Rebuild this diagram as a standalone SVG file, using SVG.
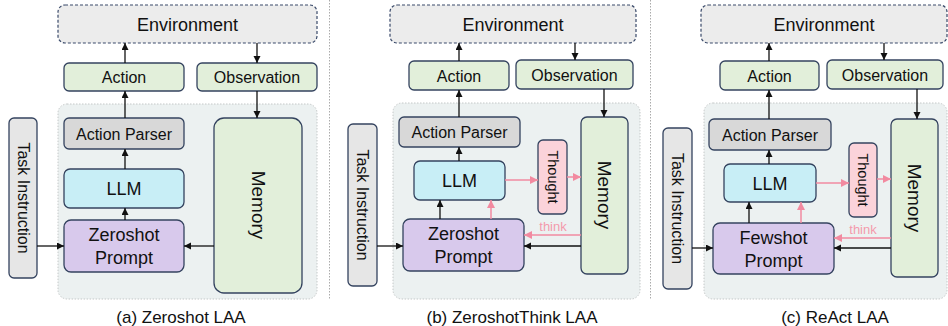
<svg xmlns="http://www.w3.org/2000/svg" width="948" height="326" viewBox="0 0 948 326">
  <defs>
    <marker id="ah" markerUnits="userSpaceOnUse" markerWidth="8" markerHeight="8" refX="7" refY="3.5" orient="auto">
      <path d="M0,0 L7,3.5 L0,7 z" fill="#111"/>
    </marker>
    <marker id="ahp" markerUnits="userSpaceOnUse" markerWidth="10" markerHeight="10" refX="8" refY="4" orient="auto">
      <path d="M0,0 L8,4 L0,8 z" fill="#f28aa0"/>
    </marker>
  </defs>
  <style>
    text { font-family: "Liberation Sans", Arial, sans-serif; fill: #111; text-anchor: middle; }
    .env { fill: #ececec; stroke: #3a4a6a; stroke-width: 1.2; stroke-dasharray: 3 2; }
    .grn { fill: #e2efda; stroke: #34435f; stroke-width: 1.3; }
    .gry { fill: #d8d8d8; stroke: #34435f; stroke-width: 1.3; }
    .task { fill: #e6e6e6; stroke: #34435f; stroke-width: 1.3; }
    .llm { fill: #c8eef6; stroke: #34435f; stroke-width: 1.3; }
    .prm { fill: #d8c9ec; stroke: #34435f; stroke-width: 1.3; }
    .tht { fill: #fbd3da; stroke: #34435f; stroke-width: 1.3; }
    .box { fill: #ecf1f1; stroke: #c4c8c8; stroke-width: 1; stroke-dasharray: 1.5 1.5; }
    .sep { stroke: #aaaaaa; stroke-width: 1; stroke-dasharray: 1.5 1.5; }
    .a { stroke: #111; stroke-width: 1.3; fill: none; marker-end: url(#ah); }
    .p { stroke: #f28aa0; stroke-width: 1.5; fill: none; marker-end: url(#ahp); }
    .t16 { font-size: 16px; }
    .t18 { font-size: 18px; }
    .cap { font-size: 17px; }
    .think { font-size: 13px; fill: #f49aac; }
  </style>

  <!-- panel separators -->
  <line class="sep" x1="329.5" y1="0" x2="329.5" y2="300"/>
  <line class="sep" x1="650.5" y1="0" x2="650.5" y2="300"/>

  <!-- agent containers -->
  <rect class="box" x="58" y="104" width="259" height="195" rx="9"/>
  <rect class="box" x="393" y="103" width="247" height="196" rx="9"/>
  <rect class="box" x="704" y="103" width="243" height="196" rx="9"/>

  <!-- ===== (a) Zeroshot LAA ===== -->
  <g id="a-environment"><rect class="env" x="58" y="5" width="259" height="38" rx="7"/><text class="t18" x="187.5" y="30.5">Environment</text></g>
  <g id="a-action"><rect class="grn" x="64" y="63" width="120" height="28" rx="5"/><text class="t16" x="124" y="83">Action</text></g>
  <g id="a-observation"><rect class="grn" x="197" y="63" width="120" height="28" rx="5"/><text class="t16" x="257" y="83">Observation</text></g>
  <g id="a-parser"><rect class="gry" x="64" y="118" width="120" height="31" rx="5"/><text class="t16" x="124" y="139.5">Action Parser</text></g>
  <g id="a-llm"><rect class="llm" x="64" y="169" width="120" height="39" rx="6"/><text class="t18" x="124" y="195">LLM</text></g>
  <g id="a-prompt"><rect class="prm" x="64" y="220" width="120" height="52" rx="7"/><text class="t18" x="124" y="241">Zeroshot</text><text class="t18" x="124" y="264">Prompt</text></g>
  <g id="a-memory"><rect class="grn" x="214" y="118" width="88" height="175" rx="10"/><text class="t18" transform="translate(251.5 205) rotate(90)" style="font-size:19px">Memory</text></g>
  <g id="a-task"><rect class="task" x="9" y="118" width="28" height="160" rx="5"/><text class="t16" transform="translate(17.5 198) rotate(90)">Task Instruction</text></g>
  <text class="cap" x="181" y="323">(a) Zeroshot LAA</text>

  <!-- ===== (b) ZeroshotThink LAA ===== -->
  <g id="b-environment"><rect class="env" x="390" y="5" width="246" height="38" rx="7"/><text class="t18" x="513" y="30.5">Environment</text></g>
  <g id="b-action"><rect class="grn" x="409" y="61" width="100" height="29" rx="5"/><text class="t16" x="459" y="81.5">Action</text></g>
  <g id="b-observation"><rect class="grn" x="516" y="60" width="117" height="29" rx="5"/><text class="t16" x="574.5" y="80.5">Observation</text></g>
  <g id="b-parser"><rect class="gry" x="399" y="117" width="121" height="30" rx="5"/><text class="t16" x="459.5" y="138">Action Parser</text></g>
  <g id="b-llm"><rect class="llm" x="414" y="161" width="91" height="39" rx="6"/><text class="t18" x="459.5" y="187">LLM</text></g>
  <g id="b-thought"><rect class="tht" x="538" y="140" width="29" height="74" rx="5"/><text transform="translate(547.5 177) rotate(90)" style="font-size:14.5px">Thought</text></g>
  <g id="b-memory"><rect class="grn" x="581" y="117" width="47" height="157" rx="6"/><text transform="translate(597.5 195) rotate(90)" style="font-size:19px">Memory</text></g>
  <g id="b-prompt"><rect class="prm" x="403" y="219" width="121" height="52" rx="7"/><text class="t18" x="463.5" y="240">Zeroshot</text><text class="t18" x="463.5" y="263">Prompt</text></g>
  <g id="b-task"><rect class="task" x="348" y="124" width="29" height="162" rx="5"/><text class="t16" transform="translate(357 205) rotate(90)">Task Instruction</text></g>
  <text class="cap" x="512" y="323">(b) ZeroshotThink LAA</text>

  <!-- ===== (c) ReAct LAA ===== -->
  <g id="c-environment"><rect class="env" x="701" y="5" width="246" height="38" rx="7"/><text class="t18" x="824" y="30.5">Environment</text></g>
  <g id="c-action"><rect class="grn" x="720" y="61" width="99" height="29" rx="5"/><text class="t16" x="769.5" y="81.5">Action</text></g>
  <g id="c-observation"><rect class="grn" x="827" y="60" width="116" height="29" rx="5"/><text class="t16" x="885" y="80.5">Observation</text></g>
  <g id="c-parser"><rect class="gry" x="709" y="119" width="122" height="31" rx="5"/><text class="t16" x="770" y="140.5">Action Parser</text></g>
  <g id="c-llm"><rect class="llm" x="724" y="164" width="92" height="38" rx="6"/><text class="t18" x="770" y="189.5">LLM</text></g>
  <g id="c-thought"><rect class="tht" x="849" y="143" width="28" height="74" rx="5"/><text transform="translate(858 180) rotate(90)" style="font-size:14.5px">Thought</text></g>
  <g id="c-memory"><rect class="grn" x="891" y="119" width="47" height="158" rx="6"/><text transform="translate(907.5 198) rotate(90)" style="font-size:19px">Memory</text></g>
  <g id="c-prompt"><rect class="prm" x="713" y="223" width="121" height="51" rx="7"/><text class="t18" x="773.5" y="244">Fewshot</text><text class="t18" x="773.5" y="267">Prompt</text></g>
  <g id="c-task"><rect class="task" x="663" y="128" width="29" height="161" rx="5"/><text class="t16" transform="translate(672 208.5) rotate(90)">Task Instruction</text></g>
  <text class="cap" x="835" y="323">(c) ReAct LAA</text>

  <!-- connectors -->
  <g id="connectors">
    <!-- (a) -->
    <line class="a" x1="125" y1="63" x2="125" y2="43"/>
    <line class="a" x1="257" y1="43" x2="257" y2="63"/>
    <line class="a" x1="257" y1="91" x2="257" y2="118"/>
    <line class="a" x1="125" y1="118" x2="125" y2="91"/>
    <line class="a" x1="125" y1="169" x2="125" y2="149"/>
    <line class="a" x1="125" y1="220" x2="125" y2="208"/>
    <line class="a" x1="214" y1="246" x2="184" y2="246"/>
    <line class="a" x1="37" y1="246" x2="64" y2="246"/>
    <!-- (b) -->
    <line class="a" x1="459" y1="61" x2="459" y2="43"/>
    <line class="a" x1="575" y1="43" x2="575" y2="60"/>
    <line class="a" x1="604" y1="89" x2="604" y2="117"/>
    <line class="a" x1="459" y1="117" x2="459" y2="90"/>
    <line class="a" x1="459" y1="161" x2="459" y2="147"/>
    <line class="a" x1="440" y1="219" x2="440" y2="200"/>
    <line class="p" x1="491" y1="219" x2="491" y2="200"/>
    <line class="p" x1="505" y1="180" x2="538" y2="180"/>
    <line class="p" x1="567" y1="177" x2="581" y2="177"/>
    <line class="p" x1="581" y1="235" x2="524" y2="235"/>
    <text class="think" x="553" y="231">think</text>
    <line class="a" x1="581" y1="246" x2="524" y2="246"/>
    <line class="a" x1="377" y1="246" x2="403" y2="246"/>
    <!-- (c) -->
    <line class="a" x1="769" y1="61" x2="769" y2="43"/>
    <line class="a" x1="884" y1="43" x2="884" y2="60"/>
    <line class="a" x1="917" y1="89" x2="917" y2="119"/>
    <line class="a" x1="769" y1="119" x2="769" y2="90"/>
    <line class="a" x1="769" y1="164" x2="769" y2="150"/>
    <line class="a" x1="749" y1="223" x2="749" y2="202"/>
    <line class="p" x1="801" y1="223" x2="801" y2="202"/>
    <line class="p" x1="816" y1="183" x2="849" y2="183"/>
    <line class="p" x1="877" y1="179" x2="891" y2="179"/>
    <line class="p" x1="891" y1="238" x2="834" y2="238"/>
    <text class="think" x="863" y="234">think</text>
    <line class="a" x1="891" y1="248" x2="834" y2="248"/>
    <line class="a" x1="692" y1="248" x2="713" y2="248"/>
  </g>
</svg>
